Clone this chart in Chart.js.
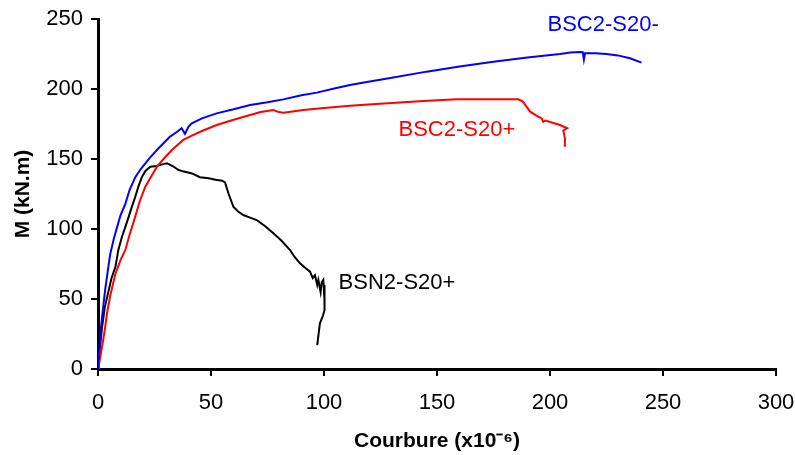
<!DOCTYPE html>
<html>
<head>
<meta charset="utf-8">
<script src="https://cdn.jsdelivr.net/npm/chart.js@4/dist/chart.umd.min.js"></script>
<style>
html,body{margin:0;padding:0;background:#fff;}
#wrap{width:795px;height:455px;position:relative;}
</style>
</head>
<body>
<div id="wrap"><canvas id="c" width="795" height="455"></canvas></div>
<script>
// Series: curvature (x1e-6) and moment (kN.m)
const blueX = [0,0.5,1.0,2,3.2,4.5,5.4,7,8.4,10,12.1,14,16.5,19,23,27,31.9,35,37,38.5,40,41.5,46,52.5,60,67.3,75,82,90,96.8,105,111.5,119.6,130,145.4,160,174.9,190,204.4,209,213.3,214.5,215,215.5,220,225,230,235.4,240.5];
const blueY = [0,12,25,40,57,72,82,93,101,110,118,128,137,143,151,158,166,169.5,172,168,173,175.5,179,182.6,185.5,188.6,190.5,192.6,195.5,197.4,200.5,202.9,205.2,208,212.4,216,219.5,222.5,225,226,226.5,226.3,221,225.5,225.5,225,224,222,218.8];

const redX = [0,0.4,1.8,3,4,5.5,7.7,10,12.1,14,16.5,18.5,20.9,23,26.1,29,32.7,37.7,42,46,52.5,60,67.3,72,77.6,80,82,90.8,100,111.5,119.6,130,144,158.7,170,186,188,191.2,194,196.3,197,198,204.4,207.6,206.5,205.9,206.6,206.6];
const redY = [0,3,16,28,40,53,68,78,85,96,109,120,130,136,144.5,150,156.4,163.6,167,170,174.3,178,181.4,183.5,185,183.5,183.1,185,186.5,188.1,189,190,191.4,192.6,192.6,192.6,191,183.8,181,179,176.6,177.5,174.3,172,171,170.2,165,158.8];

const blackX = [0,0.5,1.8,3,4.7,6,7.7,9,10.6,12,13.6,15,16.5,18,19.5,21,23.1,26,28,30.5,33,35.7,38,41.6,45.1,49,52,54.9,56.2,57.7,59.9,62,64.3,67,70.2,74,77.6,81,85,87,89.4,91.5,93.8,95,96,97,97.5,98.5,99,99.7,100.2,100.4,100,100.3,99.5,98.2,97.6,97];
const blackY = [0,10,30,44,56,65,73,85,94.5,101,108.8,116,123,131,137.4,141.5,144.5,145,146,147,145,142.1,141,139.7,137,136.2,135.2,134.5,133.3,125.5,115.9,112.5,110,108.3,106.4,102,96.9,92,85,80,75.5,72.5,69.5,65,67,60,63.6,55,62,63.6,50,46.9,60,42,38,32.6,25,17.1];

const seriesNames = ['BSC2-S20-','BSC2-S20+','BSN2-S20+'];
const seriesColors = ['#0000FF','#FF0000','#000000'];
// Curve label anchors in data units (curvature, moment)
const labelX = [223.5,158.8,132.3];
const labelY = [245.7,170.7,61.4];

const xTicks = [0,50,100,150,200,250,300];
const yTicks = [0,50,100,150,200,250];

const FONT = '"Liberation Sans", Arial, sans-serif';

function pts(xs, ys){ return xs.map((x,i)=>({x:x, y:ys[i]})); }

const curveLabels = {
  id:'curveLabels',
  afterDatasetsDraw(chart){
    const ctx = chart.ctx, xs = chart.scales.x, ys = chart.scales.y;
    ctx.save();
    ctx.font = '22px ' + FONT;
    ctx.textAlign = 'center';
    ctx.textBaseline = 'middle';
    seriesNames.forEach((n,i)=>{
      ctx.fillStyle = seriesColors[i];
      ctx.fillText(n, xs.getPixelForValue(labelX[i]), ys.getPixelForValue(labelY[i]));
    });
    ctx.restore();
  }
};

new Chart(document.getElementById('c'), {
  type:'scatter',
  data:{
    datasets:[
      {label:seriesNames[0], data:pts(blueX,blueY), borderColor:seriesColors[0]},
      {label:seriesNames[1], data:pts(redX,redY), borderColor:seriesColors[1]},
      {label:seriesNames[2], data:pts(blackX,blackY), borderColor:seriesColors[2]}
    ].map(d=>Object.assign(d,{showLine:true,pointRadius:0,borderWidth:2,fill:false,tension:0}))
  },
  options:{
    responsive:false,
    animation:false,
    layout:{padding:{left:0,top:19,right:19,bottom:0}},
    plugins:{legend:{display:false},tooltip:{enabled:false}},
    scales:{
      x:{
        type:'linear', min:0, max:300,
        afterBuildTicks(s){ s.ticks = xTicks.map(v=>({value:v})); },
        afterFit(s){ s.height = 86; s.paddingLeft = 0; s.paddingRight = 0; },
        grid:{drawOnChartArea:false, drawTicks:true, tickLength:7, color:'#000', lineWidth:2},
        border:{display:true, color:'#000', width:3},
        ticks:{color:'#000', padding:14, maxRotation:0, font:{family:FONT, size:22}},
        title:{display:true, text:'Courbure (x10\u207B\u2076)', color:'#000', padding:{top:0,bottom:1}, font:{family:FONT, size:21, weight:'bold'}}
      },
      y:{
        type:'linear', min:0, max:250,
        afterBuildTicks(s){ s.ticks = yTicks.map(v=>({value:v})); },
        afterFit(s){ s.width = 98; s.paddingTop = 0; s.paddingBottom = 0; },
        grid:{drawOnChartArea:false, drawTicks:true, tickLength:7, color:'#000', lineWidth:2},
        border:{display:true, color:'#000', width:3},
        ticks:{color:'#000', padding:8, font:{family:FONT, size:22}},
        title:{display:true, text:'M (kN.m)', color:'#000', padding:{top:11,bottom:0}, font:{family:FONT, size:21, weight:'bold'}}
      }
    }
  },
  plugins:[curveLabels]
});
</script>
</body>
</html>
